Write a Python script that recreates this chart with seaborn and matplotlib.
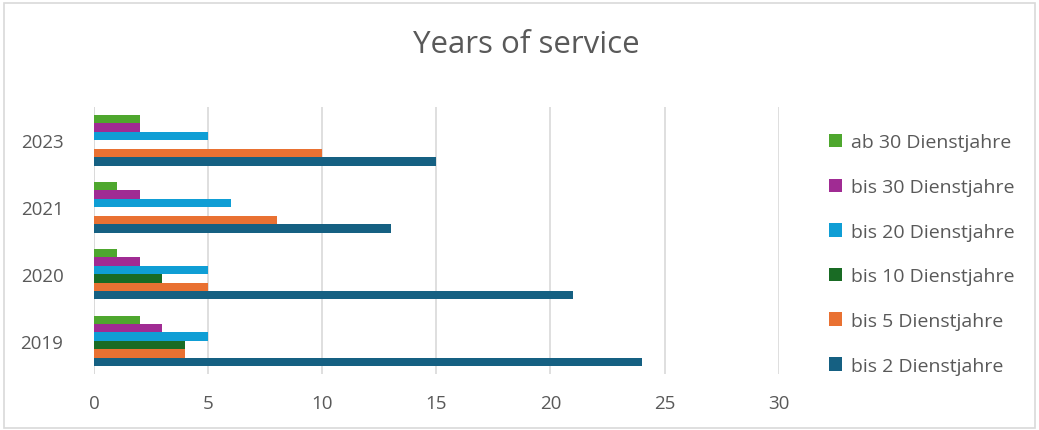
import matplotlib
matplotlib.use("Agg")
import matplotlib.pyplot as plt
import seaborn as sns
import pandas as pd
from matplotlib.patches import Rectangle, Patch

years = ["2023", "2021", "2020", "2019"]
series = ["ab 30 Dienstjahre", "bis 30 Dienstjahre", "bis 20 Dienstjahre",
          "bis 10 Dienstjahre", "bis 5 Dienstjahre", "bis 2 Dienstjahre"]
ab30 = [2, 1, 1, 2]
bis30 = [2, 2, 2, 3]
bis20 = [5, 6, 5, 5]
bis10 = [0, 0, 3, 4]
bis5 = [10, 8, 5, 4]
bis2 = [15, 13, 21, 24]
colors = ["#4EA72E", "#A02B93", "#0F9ED5", "#196B24", "#E97132", "#156082"]
xticks = [0, 5, 10, 15, 20, 25, 30]

values = [ab30, bis30, bis20, bis10, bis5, bis2]
rows = []
for s, vals in zip(series, values):
    for y, v in zip(years, vals):
        rows.append({"Jahr": y, "Serie": s, "Wert": v})
df = pd.DataFrame(rows)

sns.set_theme(style="white")
plt.rcParams["font.family"] = ["Open Sans", "DejaVu Sans"]
txt = "#595959"

fig = plt.figure(figsize=(10.39, 4.31), dpi=100)
ax = fig.add_axes([0.0905, 0.129, 0.659, 0.621])
sns.barplot(data=df, y="Jahr", x="Wert", hue="Serie", order=years,
            hue_order=series, palette=colors, saturation=1, orient="h", width=0.76,
            gap=0, edgecolor="none", ax=ax, legend=False)
ax.set_xlim(0, 30)
ax.set_xticks(xticks)
ax.set_xlabel("")
ax.set_ylabel("")
for s in ax.spines.values():
    s.set_visible(False)
ax.grid(axis="x", color="#d9d9d9", linewidth=1.2)
ax.set_axisbelow(True)
ax.axvline(0, color="#d9d9d9", linewidth=1.2, zorder=0)
ax.tick_params(axis="both", length=0, labelsize=13.5, labelcolor=txt)
ax.tick_params(axis="y", pad=22)
ax.tick_params(axis="x", pad=14)

fig.suptitle("Years of service", x=0.507, y=0.93, fontsize=22.5, color=txt)

handles = [Patch(facecolor=c, edgecolor="none") for c in colors]
leg = fig.legend(handles, series, loc="upper left", bbox_to_anchor=(0.79, 0.706),
                 frameon=False, fontsize=14, labelcolor=txt, labelspacing=1.37,
                 handlelength=0.7, handleheight=0.7, handletextpad=0.45,
                 borderaxespad=0)

fig.patches.append(Rectangle((0.004, 0.005), 0.992, 0.985, transform=fig.transFigure,
                             fill=False, edgecolor="#d9d9d9", linewidth=1.2))
fig.savefig("out.png", dpi=100)
